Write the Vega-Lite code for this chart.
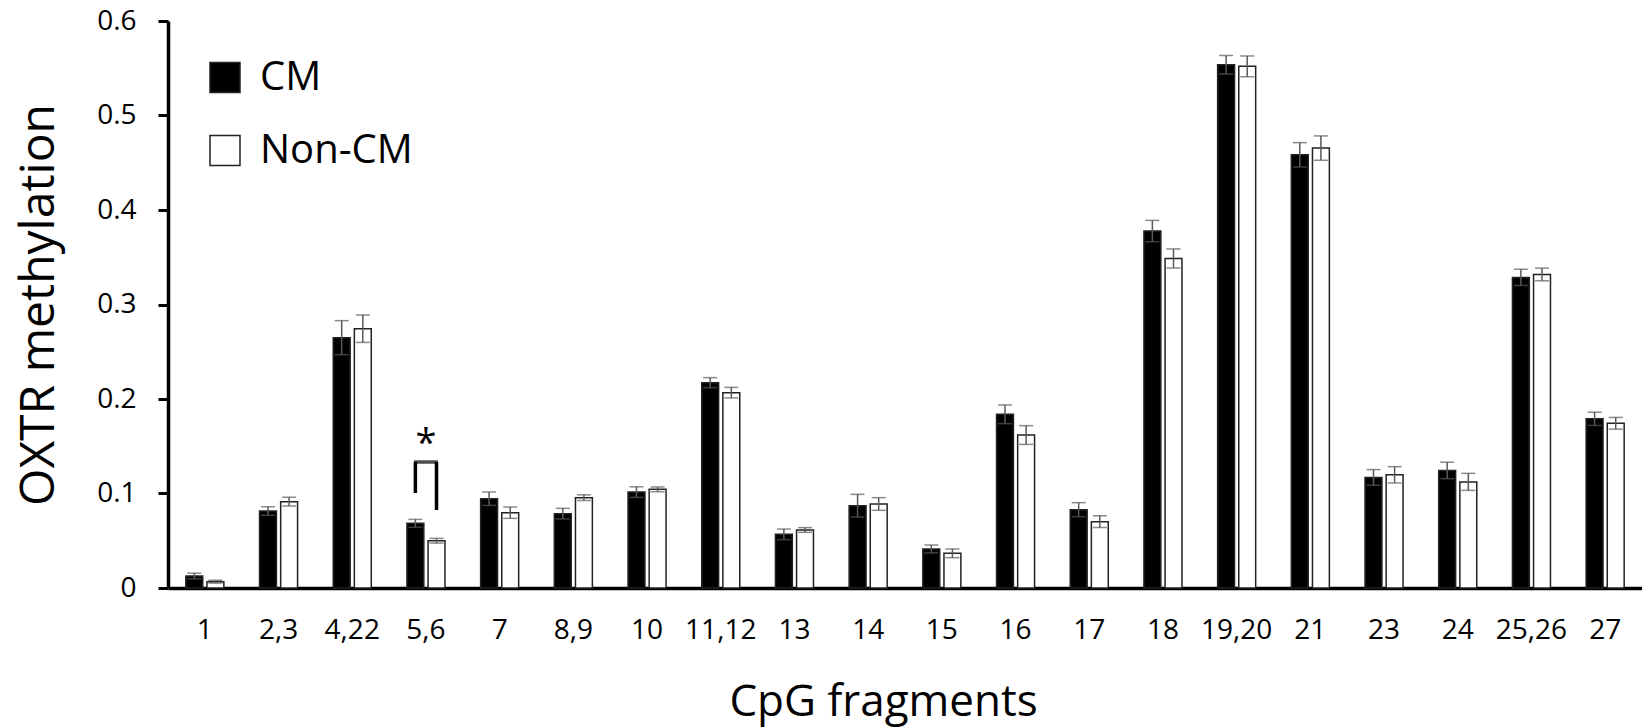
{
  "$schema": "https://vega.github.io/schema/vega-lite/v6.json",
  "width": 1474,
  "height": 567,
  "autosize": {"type": "none"},
  "padding": {"left": 168, "top": 21, "right": 0, "bottom": 140},
  "background": "white",
  "config": {"view": {"stroke": null}, "font": "Open Sans"},
  "data": {
    "values": [
      {"fragment": "1", "group": "CM", "mean": 0.0127, "lo": 0.0097, "hi": 0.0157},
      {"fragment": "1", "group": "Non-CM", "mean": 0.0067, "lo": 0.0052, "hi": 0.0082},
      {"fragment": "2,3", "group": "CM", "mean": 0.0815, "lo": 0.077, "hi": 0.086},
      {"fragment": "2,3", "group": "Non-CM", "mean": 0.0913, "lo": 0.0867, "hi": 0.0959},
      {"fragment": "4,22", "group": "CM", "mean": 0.2649, "lo": 0.2469, "hi": 0.2829},
      {"fragment": "4,22", "group": "Non-CM", "mean": 0.2744, "lo": 0.2599, "hi": 0.2889},
      {"fragment": "5,6", "group": "CM", "mean": 0.0684, "lo": 0.0642, "hi": 0.0726},
      {"fragment": "5,6", "group": "Non-CM", "mean": 0.05, "lo": 0.0475, "hi": 0.0525},
      {"fragment": "7", "group": "CM", "mean": 0.0945, "lo": 0.0874, "hi": 0.1016},
      {"fragment": "7", "group": "Non-CM", "mean": 0.0797, "lo": 0.0737, "hi": 0.0857},
      {"fragment": "8,9", "group": "CM", "mean": 0.0787, "lo": 0.0731, "hi": 0.0843},
      {"fragment": "8,9", "group": "Non-CM", "mean": 0.0956, "lo": 0.0926, "hi": 0.0986},
      {"fragment": "10", "group": "CM", "mean": 0.1015, "lo": 0.0959, "hi": 0.1071},
      {"fragment": "10", "group": "Non-CM", "mean": 0.1044, "lo": 0.1019, "hi": 0.1069},
      {"fragment": "11,12", "group": "CM", "mean": 0.2173, "lo": 0.212, "hi": 0.2226},
      {"fragment": "11,12", "group": "Non-CM", "mean": 0.2067, "lo": 0.2011, "hi": 0.2123},
      {"fragment": "13", "group": "CM", "mean": 0.0568, "lo": 0.0512, "hi": 0.0624},
      {"fragment": "13", "group": "Non-CM", "mean": 0.0614, "lo": 0.0589, "hi": 0.0639},
      {"fragment": "14", "group": "CM", "mean": 0.0871, "lo": 0.0751, "hi": 0.0991},
      {"fragment": "14", "group": "Non-CM", "mean": 0.0889, "lo": 0.0822, "hi": 0.0956},
      {"fragment": "15", "group": "CM", "mean": 0.0413, "lo": 0.0371, "hi": 0.0455},
      {"fragment": "15", "group": "Non-CM", "mean": 0.0367, "lo": 0.0321, "hi": 0.0413},
      {"fragment": "16", "group": "CM", "mean": 0.1838, "lo": 0.1739, "hi": 0.1937},
      {"fragment": "16", "group": "Non-CM", "mean": 0.1619, "lo": 0.152, "hi": 0.1718},
      {"fragment": "17", "group": "CM", "mean": 0.0829, "lo": 0.0755, "hi": 0.0903},
      {"fragment": "17", "group": "Non-CM", "mean": 0.0702, "lo": 0.064, "hi": 0.0764},
      {"fragment": "18", "group": "CM", "mean": 0.3777, "lo": 0.3664, "hi": 0.389},
      {"fragment": "18", "group": "Non-CM", "mean": 0.3487, "lo": 0.3386, "hi": 0.3588},
      {"fragment": "19,20", "group": "CM", "mean": 0.5537, "lo": 0.5439, "hi": 0.5635},
      {"fragment": "19,20", "group": "Non-CM", "mean": 0.552, "lo": 0.541, "hi": 0.563},
      {"fragment": "21", "group": "CM", "mean": 0.4584, "lo": 0.4455, "hi": 0.4713},
      {"fragment": "21", "group": "Non-CM", "mean": 0.4655, "lo": 0.4526, "hi": 0.4784},
      {"fragment": "23", "group": "CM", "mean": 0.117, "lo": 0.1087, "hi": 0.1253},
      {"fragment": "23", "group": "Non-CM", "mean": 0.1198, "lo": 0.1112, "hi": 0.1284},
      {"fragment": "24", "group": "CM", "mean": 0.1244, "lo": 0.1157, "hi": 0.1331},
      {"fragment": "24", "group": "Non-CM", "mean": 0.1123, "lo": 0.1033, "hi": 0.1213},
      {"fragment": "25,26", "group": "CM", "mean": 0.3287, "lo": 0.3201, "hi": 0.3373},
      {"fragment": "25,26", "group": "Non-CM", "mean": 0.3318, "lo": 0.3251, "hi": 0.3385},
      {"fragment": "27", "group": "CM", "mean": 0.179, "lo": 0.172, "hi": 0.186},
      {"fragment": "27", "group": "Non-CM", "mean": 0.1743, "lo": 0.1681, "hi": 0.1805}
    ]
  },
  "layer": [
    {
      "mark": {"type": "bar", "stroke": "#222222", "strokeWidth": 1.5},
      "encoding": {
        "x": {
          "field": "fragment", "type": "nominal", "sort": null,
          "scale": {"paddingInner": 0.484, "paddingOuter": 0.242},
          "axis": {
            "title": "CpG fragments", "titleFont": "Open Sans", "titleFontSize": 44, "titleFontWeight": "normal", "titleColor": "black",
            "titleX": 715, "titleY": 127, "titleBaseline": "alphabetic", "titleAlign": "center",
            "labelAngle": 0, "labelFont": "Open Sans", "labelFontSize": 28, "labelColor": "black",
            "labelBaseline": "alphabetic", "labelPadding": 50, "ticks": false, "tickSize": 0,
            "domainColor": "black", "domainWidth": 3.5, "grid": false, "labelOverlap": false
          }
        },
        "xOffset": {"field": "group", "type": "nominal", "sort": ["CM", "Non-CM"], "scale": {"paddingInner": 0.2}},
        "y": {
          "field": "mean", "type": "quantitative",
          "scale": {"domain": [0, 0.6], "nice": false},
          "axis": {
            "title": "OXTR methylation", "titleFont": "Open Sans", "titleFontSize": 48, "titleFontWeight": "normal", "titleColor": "black",
            "titleX": -115, "titleBaseline": "alphabetic",
            "values": [0, 0.1, 0.2, 0.3, 0.4, 0.5, 0.6],
            "labelExpr": "datum.value == 0 ? '0' : format(datum.value, '.1f')",
            "labelFont": "Open Sans", "labelFontSize": 28, "labelColor": "black", "labelPadding": 22,
            "tickSize": 10, "tickWidth": 3, "tickColor": "black",
            "domainColor": "black", "domainWidth": 3.5, "grid": false
          }
        },
        "fill": {
          "field": "group", "type": "nominal",
          "scale": {"domain": ["CM", "Non-CM"], "range": ["#000000", "#ffffff"]},
          "legend": {
            "title": null, "orient": "none", "legendX": 37, "legendY": 36.5,
            "symbolType": "square", "symbolSize": 900, "symbolStrokeColor": "#222222", "symbolStrokeWidth": 1.5,
            "labelFont": "Open Sans", "labelFontSize": 40, "labelColor": "black", "labelOffset": 15, "rowPadding": 33
          }
        }
      }
    },
    {
      "mark": {"type": "rule", "color": "#595959", "strokeWidth": 1.5},
      "encoding": {
        "x": {"field": "fragment", "type": "nominal", "sort": null},
        "xOffset": {"field": "group", "type": "nominal", "sort": ["CM", "Non-CM"]},
        "y": {"field": "lo", "type": "quantitative"},
        "y2": {"field": "hi"}
      }
    },
    {
      "mark": {"type": "tick", "color": "#595959", "thickness": 1.5, "size": 14},
      "encoding": {
        "x": {"field": "fragment", "type": "nominal", "sort": null},
        "xOffset": {"field": "group", "type": "nominal", "sort": ["CM", "Non-CM"]},
        "y": {"field": "hi", "type": "quantitative"}
      }
    },
    {
      "mark": {"type": "tick", "color": "#595959", "thickness": 1.5, "size": 14},
      "encoding": {
        "x": {"field": "fragment", "type": "nominal", "sort": null},
        "xOffset": {"field": "group", "type": "nominal", "sort": ["CM", "Non-CM"]},
        "y": {"field": "lo", "type": "quantitative"}
      }
    },
    {
      "data": {"values": [{}]},
      "mark": {"type": "rule", "color": "black", "strokeWidth": 3.5},
      "encoding": {
        "x": {"datum": "5,6", "type": "nominal"},
        "xOffset": {"datum": "CM", "type": "nominal"},
        "y": {"datum": 0.1005, "type": "quantitative"},
        "y2": {"datum": 0.1333}
      }
    },
    {
      "data": {"values": [{}]},
      "mark": {"type": "rule", "color": "black", "strokeWidth": 3.5},
      "encoding": {
        "x": {"datum": "5,6", "type": "nominal"},
        "xOffset": {"datum": "Non-CM", "type": "nominal"},
        "y": {"datum": 0.0825, "type": "quantitative"},
        "y2": {"datum": 0.1333}
      }
    },
    {
      "data": {"values": [{}]},
      "mark": {"type": "tick", "color": "black", "thickness": 3.5, "size": 24},
      "encoding": {
        "x": {"datum": "5,6", "type": "nominal"},
        "y": {"datum": 0.1333, "type": "quantitative"}
      }
    },
    {
      "data": {"values": [{}]},
      "mark": {"type": "text", "text": "*", "font": "Open Sans", "fontSize": 38, "color": "black", "baseline": "alphabetic", "align": "center"},
      "encoding": {
        "x": {"datum": "5,6", "type": "nominal"},
        "y": {"datum": 0.14, "type": "quantitative"}
      }
    }
  ]
}
